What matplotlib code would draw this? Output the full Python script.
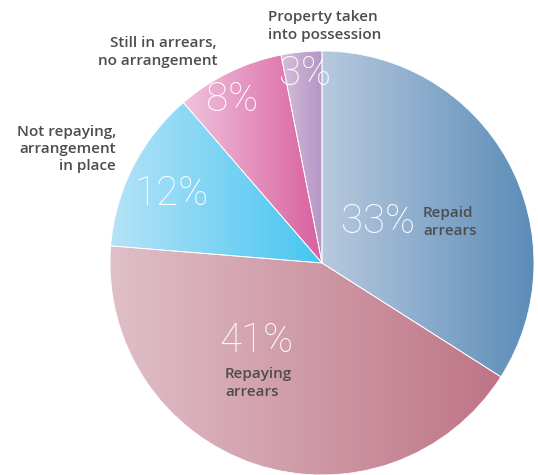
import numpy as np
import matplotlib
matplotlib.use("Agg")
import matplotlib.pyplot as plt
from matplotlib.colors import LinearSegmentedColormap

# data
labels = ["Repaid\narrears", "Repaying\narrears", "Not repaying,\narrangement\nin place",
          "Still in arrears,\nno arrangement", "Property taken\ninto possession"]
values = [33, 41, 12, 8, 3]
pct_text = ["33%", "41%", "12%", "8%", "3%"]

# gradient colours (light on the left, dark on the right)
grad_left = ["#b7c9de", "#e0c0c8", "#b5e3f8", "#f0c3dd", "#d6bddb"]
grad_right = ["#5a8cb8", "#be7486", "#45c5f1", "#d95f9f", "#b496c5"]

W, H = 538, 475
cx, cy, R = 322, H - 263, 212

fig = plt.figure(figsize=(W / 100, H / 100), dpi=100)
ax = fig.add_axes([0, 0, 1, 1])

wedges, _ = ax.pie(values, startangle=90, counterclock=False, center=(cx, cy),
                   radius=R, frame=True,
                   wedgeprops=dict(edgecolor="white", linewidth=0.6, facecolor="none"))
ax.set_xlim(0, W)
ax.set_ylim(0, H)
ax.set_aspect("equal")
ax.axis("off")

for w, c0, c1 in zip(wedges, grad_left, grad_right):
    path = w.get_path()
    verts = w.get_transform().transform(path.vertices)
    verts = ax.transData.inverted().transform(verts)
    x0, x1 = verts[:, 0].min(), verts[:, 0].max()
    y0, y1 = verts[:, 1].min(), verts[:, 1].max()
    cmap = LinearSegmentedColormap.from_list("g", [c0, c1])
    grad = np.linspace(0, 1, 256).reshape(1, -1)
    im = ax.imshow(grad, cmap=cmap, extent=(x0, x1, y0, y1), aspect="auto",
                   origin="lower", zorder=1, interpolation="bilinear")
    im.set_clip_path(w)
    w.set_zorder(2)

ax.set_xlim(0, W)
ax.set_ylim(0, H)

# percentage labels (pixel positions from top)
pct_pos = [(378, 222), (256, 341), (171, 194), (232, 100), (305, 74)]
for t, (px, py) in zip(pct_text, pct_pos):
    ax.text(px, H - py, t, color="white", fontsize=29, fontweight="light",
            family="Roboto", ha="center", va="center", zorder=5)

lab_style = dict(color="#4d4d4f", fontsize=11, fontweight="semibold",
                 family="Open Sans", linespacing=1.3, zorder=5)
ax.text(423, H - 222, labels[0], ha="left", va="center", **lab_style)
ax.text(225, H - 383, labels[1], ha="left", va="center", **lab_style)
ax.text(116, H - 149, labels[2], ha="right", va="center", multialignment="right", **lab_style)
ax.text(217, H - 52, labels[3], ha="right", va="center", multialignment="right", **lab_style)
ax.text(268, H - 26, labels[4], ha="left", va="center", **lab_style)

fig.savefig("out.png", dpi=100)
